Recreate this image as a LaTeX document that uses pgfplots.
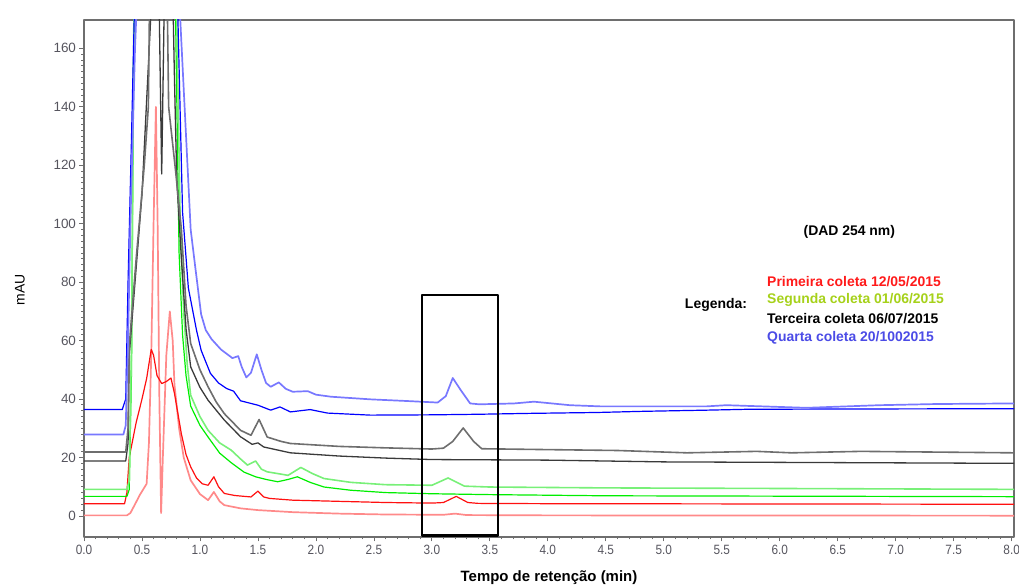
\documentclass[border=0pt]{standalone}
\usepackage{fontspec}
\setmainfont{Liberation Sans}
\usepackage{graphicx}
\usepackage{pgfplots}
\pgfplotsset{compat=1.18}
\definecolor{axisgray}{HTML}{6E6E6E}
\definecolor{ticktext}{HTML}{56555E}
\definecolor{redA}{HTML}{FF1010}
\definecolor{redL}{HTML}{FF8A8A}
\definecolor{greenA}{HTML}{00EE00}
\definecolor{greenL}{HTML}{78F078}
\definecolor{grayA}{HTML}{3A3A3A}
\definecolor{grayL}{HTML}{6E6E6E}
\definecolor{blueA}{HTML}{0000FF}
\definecolor{blueL}{HTML}{7878FF}
\definecolor{legred}{HTML}{FF1A1A}
\definecolor{leggreen}{HTML}{A6D11A}
\definecolor{legblue}{HTML}{4B4BE6}

\begin{document}
\begin{tikzpicture}
\path[use as bounding box] (-84bp,-49bp) rectangle (935bp,537bp);
\begin{axis}[
  at={(0,0)}, anchor=south west,
  scale only axis, width=930bp, height=517bp,
  xmin=0, xmax=8.02, ymin=-7.2, ymax=169.7,
  axis line style={draw=axisgray, line width=1.2bp},
  xtick={0,0.5,...,8}, ytick={0,20,...,160},
  minor x tick num=4, minor y tick num=9,
  tick align=outside, tick pos=left,
  major tick length=4.5bp, minor tick length=2.5bp,
  every tick/.style={draw=axisgray, line width=0.8bp},
  /pgf/number format/assume math mode=true,
  xticklabel={\scalebox{0.88}[1]{\pgfmathprintnumber[fixed,fixed zerofill,precision=1]{\tick}}},
  yticklabel={\pgfmathprintnumber[fixed,precision=0]{\tick}},
  tick label style={font=\fontsize{13.5}{13.5}\selectfont, text=ticktext},
  xlabel={Tempo de retenção (min)},
  ylabel={mAU},
  xlabel style={font=\fontsize{15}{15}\selectfont\bfseries, at={(axis description cs:0.5,-0.079)}, anchor=center},
  ylabel style={font=\fontsize{14}{14}\selectfont, at={(axis description cs:-0.069,0.478)}, anchor=center},
  line join=round,
]
% Primeira coleta (light red)
\addplot[redL, line width=1.7bp] coordinates {
(0,0.2) (0.37,0.2) (0.40,1) (0.44,4) (0.48,7.1) (0.54,11) (0.56,25) (0.58,55) (0.60,100) (0.62,140) (0.635,100) (0.65,40) (0.665,1) (0.68,20) (0.71,55) (0.74,70) (0.765,60) (0.78,45) (0.82,30) (0.86,20) (0.92,12.2) (1.00,7.5) (1.07,5.4) (1.12,8.2) (1.17,5) (1.21,3.7) (1.35,2.6) (1.5,2) (1.8,1.3) (2.2,0.8) (2.6,0.5) (3.1,0.4) (3.2,0.8) (3.3,0.3) (4,0.2) (8.02,0.1)};
% Primeira coleta (red)
\addplot[redA, line width=1.2bp] coordinates {
(0,4.2) (0.35,4.2) (0.37,8) (0.39,20) (0.42,26) (0.45,32) (0.50,40) (0.54,47) (0.58,57) (0.60,55) (0.63,48) (0.67,45.3) (0.71,46) (0.75,47.2) (0.78,42) (0.81,35) (0.84,28) (0.88,21) (0.92,16.8) (0.97,13) (1.02,11) (1.07,10.5) (1.12,13.4) (1.16,10) (1.21,7.7) (1.3,7) (1.44,6.5) (1.50,8.5) (1.55,6.5) (1.6,6) (1.8,5.4) (2.2,5) (2.6,4.6) (3.0,4.4) (3.1,4.6) (3.21,6.7) (3.31,4.6) (3.4,4.3) (4,4.2) (8.02,4.0)};
% Segunda coleta (green)
\addplot[greenA, line width=1.2bp] coordinates {
(0,6.7) (0.37,6.7) (0.39,9) (0.41,50) (0.43,170) (0.46,260) (0.77,260) (0.79,170) (0.82,90) (0.85,62) (0.88,48) (0.92,37.6) (1.0,31) (1.07,27) (1.17,21.5) (1.27,18.2) (1.38,15) (1.48,13.4) (1.57,12.5) (1.67,11.7) (1.76,12.5) (1.84,13.4) (1.95,11.5) (2.07,9.9) (2.3,8.8) (2.6,8) (3.0,7.6) (3.5,7.3) (4.5,6.9) (8.02,6.6)};
% Segunda coleta (light green)
\addplot[greenL, line width=1.6bp] coordinates {
(0,9.1) (0.37,9.1) (0.39,12) (0.41,60) (0.43,170) (0.46,260) (0.78,260) (0.80,170) (0.83,100) (0.86,70) (0.89,52) (0.92,41.3) (1.0,34) (1.07,29.3) (1.17,25) (1.27,22.5) (1.35,19.5) (1.41,17.4) (1.48,18.8) (1.53,16) (1.58,15.1) (1.76,13.9) (1.87,16.6) (1.97,14.5) (2.07,12.8) (2.3,11.5) (2.6,10.7) (3.0,10.5) (3.14,13) (3.28,10.2) (3.5,9.9) (4.5,9.6) (6,9.4) (8.02,9.1)};
% Terceira coleta (dark)
\addplot[grayA, line width=1.3bp] coordinates {
(0,18.8) (0.36,18.8) (0.38,25) (0.39,55) (0.45,85) (0.50,110) (0.57,166) (0.58,175) (0.62,230) (0.65,170) (0.67,117) (0.69,170) (0.72,250) (0.76,190) (0.78,150) (0.80,115) (0.84,88) (0.88,64) (0.92,51) (1.0,44) (1.07,39.6) (1.21,32.8) (1.35,27.1) (1.45,24.5) (1.50,25) (1.55,23.6) (1.78,21.6) (2.2,20.5) (2.6,19.8) (3.0,19.3) (3.5,19.2) (4.0,19.1) (5,18.5) (8.02,18)};
% Terceira coleta (gray)
\addplot[grayL, line width=1.6bp] coordinates {
(0,21.9) (0.36,21.9) (0.38,30) (0.39,58) (0.45,88) (0.52,120) (0.555,140) (0.565,175) (0.60,260) (0.68,260) (0.72,170) (0.73,140) (0.79,118) (0.84,98) (0.88,72) (0.92,59) (1.0,50) (1.07,44.2) (1.14,39) (1.21,35) (1.35,29.3) (1.44,27.6) (1.51,33) (1.58,27) (1.7,25.5) (1.78,24.8) (2.2,23.8) (2.6,23.3) (3.0,22.9) (3.1,23.2) (3.18,25.5) (3.27,30.1) (3.36,25.5) (3.43,23) (4,22.7) (4.6,22.4) (5.2,21.6) (5.8,22.1) (6.1,21.6) (6.7,22.1) (8.02,21.6)};
% Quarta coleta (blue)
\addplot[blueA, line width=1.2bp] coordinates {
(0,36.4) (0.33,36.4) (0.36,40) (0.38,80) (0.41,130) (0.43,165) (0.45,200) (0.48,280) (0.74,280) (0.79,200) (0.81,170) (0.85,104) (0.90,78) (0.97,63.6) (1.01,56.7) (1.09,48.8) (1.16,45.5) (1.23,43.6) (1.29,42.7) (1.35,39.4) (1.50,37.9) (1.61,36.2) (1.69,37.3) (1.78,35.6) (1.95,36.4) (2.1,35.2) (2.47,34.5) (3.0,34.6) (3.41,34.8) (3.84,35.1) (4.42,35.4) (4.82,35.8) (5.37,36.2) (5.72,36.5) (6.58,36.6) (8.02,36.7)};
% Quarta coleta (light blue)
\addplot[blueL, line width=1.7bp] coordinates {
(0,27.9) (0.34,27.9) (0.36,31) (0.38,60) (0.40,100) (0.44,160) (0.46,180) (0.50,280) (0.76,280) (0.80,200) (0.83,170) (0.92,98) (0.96,85) (1.01,69) (1.05,63.6) (1.10,60.5) (1.18,57) (1.28,54) (1.33,54.7) (1.36,51) (1.40,47.4) (1.44,49) (1.49,55.3) (1.53,50) (1.57,45.5) (1.61,44.2) (1.68,45.7) (1.74,43.5) (1.80,42.5) (1.93,42.7) (2.0,41.5) (2.13,40.8) (2.47,39.9) (2.8,39.3) (3.05,38.8) (3.12,41) (3.18,47.2) (3.25,43) (3.33,38.5) (3.41,38.2) (3.71,38.5) (3.88,39.1) (4.19,37.9) (4.45,37.5) (5.37,37.5) (5.54,37.9) (6.23,37) (6.86,37.9) (7.35,38.3) (8.02,38.5)};

\draw[black, line width=2.5bp] (axis cs:2.915,-6.7) rectangle (axis cs:3.57,75.6);

\node[font=\fontsize{14}{14}\selectfont\bfseries] at (axis cs:6.60,97.1) {(DAD 254 nm)};
\node[font=\fontsize{14}{14}\selectfont\bfseries] at (axis cs:5.45,72.1) {Legenda:};
\node[font=\fontsize{14}{14}\selectfont\bfseries, text=legred, anchor=west, inner xsep=0pt] at (axis cs:5.89,80.3) {Primeira coleta 12/05/2015};
\node[font=\fontsize{14}{14}\selectfont\bfseries, text=leggreen, anchor=west, inner xsep=0pt] at (axis cs:5.89,74.0) {Segunda coleta 01/06/2015};
\node[font=\fontsize{14}{14}\selectfont\bfseries, text=black, anchor=west, inner xsep=0pt] at (axis cs:5.89,67.6) {Terceira coleta 06/07/2015};
\node[font=\fontsize{14}{14}\selectfont\bfseries, text=legblue, anchor=west, inner xsep=0pt] at (axis cs:5.89,61.1) {Quarta coleta 20/1002015};
\end{axis}
\end{tikzpicture}
\end{document}
